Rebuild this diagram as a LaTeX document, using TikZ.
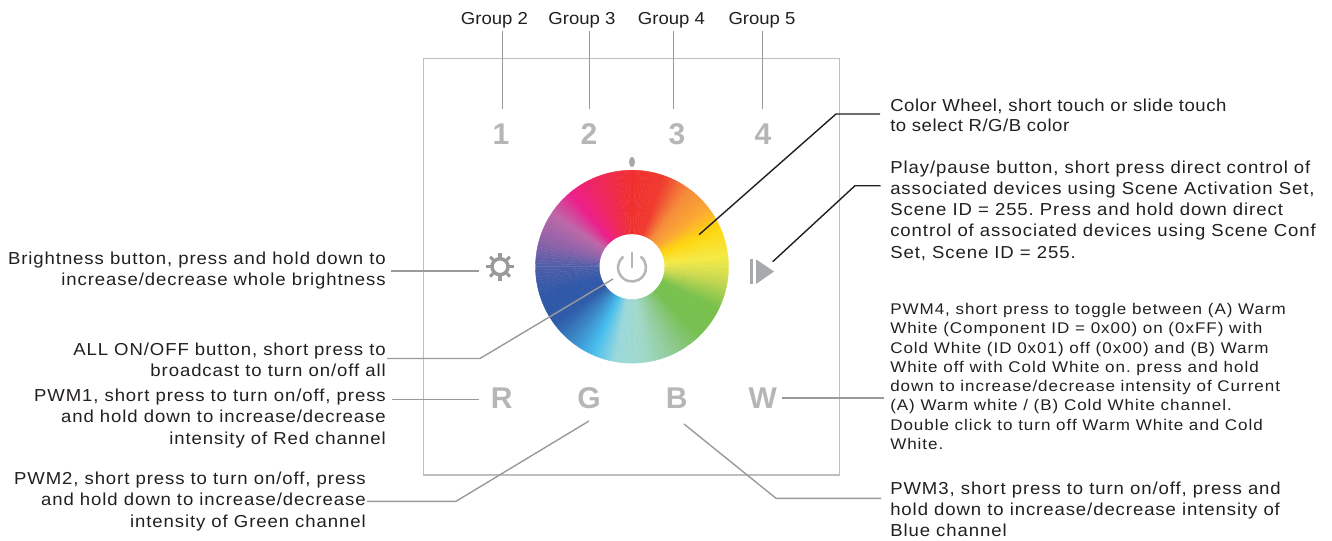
\documentclass[tikz,border=0pt]{standalone}
\usepackage{fontspec}
\usetikzlibrary{calc}
\setmainfont{Liberation Sans}
\newfontfamily\grpfont[FakeStretch=1.07]{Liberation Sans}
\newfontfamily\lblfont[FakeStretch=1.07,LetterSpace=5.3]{Liberation Sans}
\newfontfamily\wheelfont[FakeStretch=1.07,LetterSpace=3]{Liberation Sans}
\newfontfamily\smallfont[FakeStretch=1.1,LetterSpace=6.3]{Liberation Sans}
\definecolor{ink}{HTML}{231F20}
\definecolor{boxgray}{HTML}{BEBEBE}
\definecolor{leadgray}{HTML}{9A9A9C}
\definecolor{keygray}{HTML}{B6B6B6}
\definecolor{icongray}{HTML}{A8A9AD}
\tikzset{
  panel/.style={draw=boxgray,line width=1.1pt},
  lead/.style={draw=leadgray,line width=1.05pt},
  blacklead/.style={draw=ink,line width=1.05pt},
  key/.style={inner sep=0,text=keygray,font=\bfseries\fontsize{22.5}{24}\selectfont},
  grp/.style={inner sep=0,text=ink,font=\grpfont\fontsize{13}{15.9}\selectfont},
  lbl/.style={inner sep=0,text=ink,font=\lblfont\frenchspacing\fontsize{13}{15.9}\selectfont},
  lblL/.style={lbl,anchor=east,align=right},
  lblR/.style={lbl,anchor=west,align=left},
  lblW/.style={inner sep=0,text=ink,anchor=west,align=left,font=\wheelfont\fontsize{13}{15}\selectfont},
  lblS/.style={inner sep=0,text=ink,anchor=west,align=left,font=\smallfont\frenchspacing\fontsize{11.6}{14.45}\selectfont},
}
\begin{document}
\begin{tikzpicture}[x=0.75pt,y=-0.75pt]
\useasboundingbox (0,0) rectangle (1332,540);
\draw[panel] (423.3,58.5) rectangle (839.3,475);
\coordinate (wc) at (632,266.7);
% colour wheel
\foreach \sa/\ca/\sb/\cb in {
 0/F0302F/20/F03B2E, 20/F03B2E/36/F58B3A, 36/F58B3A/52/FBA833, 52/FBA833/66/FFD60F,
 66/FFD60F/84/F5EA45, 84/F5EA45/98/CCDA50, 98/CCDA50/116/78C14D, 116/78C14D/136/76C050,
 136/76C050/152/8CC98A, 152/8CC98A/172/A0D8C8, 172/A0D8C8/190/9BD8DC, 190/9BD8DC/205/45BCEE,
 205/45BCEE/220/3A85C4, 220/3A85C4/234/2E5AA8, 234/2E5AA8/252/2F58A8, 252/2F58A8/270/4E5EA8,
 270/4E5EA8/286/8E62A8, 286/8E62A8/304/BE68A8, 304/BE68A8/320/EC1F8C, 320/EC1F8C/336/EE2560,
 336/EE2560/360/F0302F}{
  \definecolor{ca}{HTML}{\ca}\definecolor{cb}{HTML}{\cb}
  \pgfmathsetmacro\nseg{int((\sb-\sa)/2)}
  \foreach \i in {1,...,\nseg}{
    \pgfmathsetmacro\p{100*(\i-0.5)/\nseg}
    \pgfmathsetmacro\tha{\sa+(\i-1)*(\sb-\sa)/\nseg-90}
    \pgfmathsetmacro\thb{\sa+\i*(\sb-\sa)/\nseg-90}
    \fill[cb!\p!ca,draw=cb!\p!ca,line width=0.25pt,line join=round] (wc) -- ($(wc)+(\tha:96.5)$) -- ($(wc)+(\thb:96.5)$) -- cycle;
  }
}
\fill[white] (wc) circle[radius=32.5];
\fill[icongray] (632,162) ellipse[x radius=3,y radius=5.2];
% power icon
\coordinate (pw) at (632,267.5);
\draw[keygray,line width=1.9pt] ($(pw)+(-90:15.5)$) -- (pw);
\draw[keygray,line width=1.9pt] ($(pw)+(-52:14)$) arc[start angle=-52,end angle=232,radius=14];
% keys
\node[key] (k1) at (501,134) {1};
\node[key] (k2) at (589,134) {2};
\node[key] (k3) at (677,134) {3};
\node[key] (k4) at (763,134) {4};
\node[key] (kr) at (501.7,398) {R};
\node[key] (kg) at (589,398) {G};
\node[key] (kb) at (676.7,398) {B};
\node[key] (kw) at (762.7,398) {W};
% gear
\coordinate (gear) at (500,266.7);
\foreach \g in {0,45,...,315}{
  \draw[leadgray,line width=2.4pt] ($(gear)+(\g:8)$) -- ($(gear)+(\g:14)$);
}
\draw[leadgray,line width=2.6pt] (gear) circle[radius=8];
% play
\coordinate (pa) at (751.5,259.3);
\coordinate (pb) at (751.5,284);
\draw[icongray,line width=2.4pt] (pa) -- (pb);
\fill[icongray] (756,259.3) -- (774,271.5) -- (756,284) -- cycle;
% labels
\node[grp] (g2) at (494.5,20.5) {Group 2};
\node[grp] (g3) at (582,20.5) {Group 3};
\node[grp] (g4) at (671.5,20.5) {Group 4};
\node[grp] (g5) at (762,20.5) {Group 5};
\node[lblW] (tw) at (890,115) {Color Wheel, short touch or slide touch\\to select R/G/B color};
\node[lblR] (tp) at (890,210.5) {Play/pause button, short press direct control of\\associated devices using Scene Activation Set,\\Scene ID = 255. Press and hold down direct\\control of associated devices using Scene Conf\\Set, Scene ID = 255.};
\node[lblS] (t4) at (890,376.5) {PWM4, short press to toggle between (A) Warm\\White (Component ID = 0x00) on (0xFF) with\\Cold White (ID 0x01) off (0x00) and (B) Warm\\White off with Cold White on. press and hold\\down to increase/decrease intensity of Current\\(A) Warm white / (B) Cold White channel.\\Double click to turn off Warm White and Cold\\White.};
\node[lblR] (t3) at (890,509.5) {PWM3, short press to turn on/off, press and\\hold down to increase/decrease intensity of\\Blue channel};
\node[lblL] (tb) at (386,270.5) {Brightness button, press and hold down to\\increase/decrease whole brightness};
\node[lblL] (ta) at (386,359.5) {ALL ON/OFF button, short press to\\broadcast to turn on/off all};
\node[lblL] (t1) at (386,418.5) {PWM1, short press to turn on/off, press\\and hold down to increase/decrease\\intensity of Red channel};
\node[lblL] (t2) at (366,501.5) {PWM2, short press to turn on/off, press\\and hold down to increase/decrease\\intensity of Green channel};
% connectors
\foreach \nm/\x in {g2/502.3,g3/589.3,g4/673.7,g5/762.7}{
  \coordinate (\nm s) at (\x,31);
  \coordinate (\nm e) at (\x,108.7);
  \draw[lead] (\nm s) -- (\nm e);
}
\coordinate (lb1) at (391,271); \coordinate (lb2) at (479,271);
\draw[lead] (lb1) -- (lb2);
\coordinate (la1) at (387,358.5); \coordinate (la2) at (480,358.5); \coordinate (la3) at (613,279);
\draw[lead] (la1) -- (la2) -- (la3);
\coordinate (lr1) at (391.5,399.3); \coordinate (lr2) at (479,399.3);
\draw[lead] (lr1) -- (lr2);
\coordinate (lg1) at (367,501.3); \coordinate (lg2) at (456,501.3); \coordinate (lg3) at (589,421);
\draw[lead] (lg1) -- (lg2) -- (lg3);
\coordinate (lB1) at (684,424); \coordinate (lB2) at (776,498.3); \coordinate (lB3) at (881,498.3);
\draw[lead] (lB1) -- (lB2) -- (lB3);
\coordinate (lw1) at (781.5,398); \coordinate (lw2) at (884,398);
\draw[lead] (lw1) -- (lw2);
\coordinate (lc1) at (699,234.7); \coordinate (lc2) at (836,114); \coordinate (lc3) at (880,114);
\draw[blacklead] (lc1) -- (lc2) -- (lc3);
\coordinate (lp1) at (772.7,261.7); \coordinate (lp2) at (855,185.7); \coordinate (lp3) at (880.7,185.7);
\draw[blacklead] (lp1) -- (lp2) -- (lp3);
\end{tikzpicture}
\end{document}
